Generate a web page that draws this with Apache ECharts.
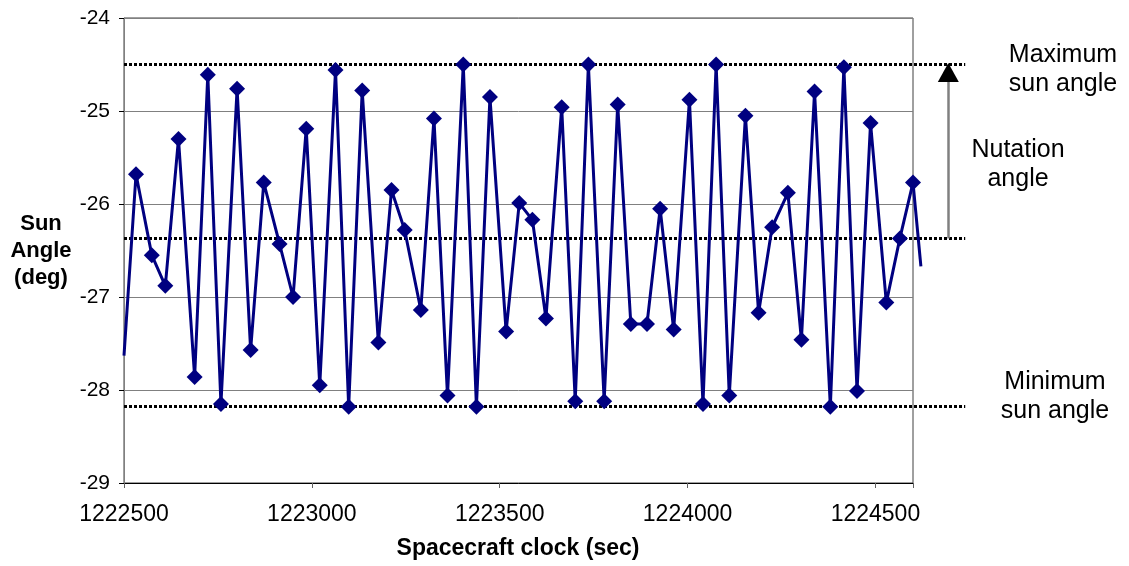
<!DOCTYPE html>
<html>
<head>
<meta charset="utf-8">
<script src="https://cdn.jsdelivr.net/npm/echarts@6/dist/echarts.min.js"></script>
<style>
  html, body { margin: 0; padding: 0; background: #fff; }
  #chart { width: 1129px; height: 566px; }
</style>
</head>
<body>
<div id="chart"></div>
<script>
// Spacecraft clock (sec) of each sample
var clockSec = [
  1222532, 1222574, 1222610, 1222645, 1222688, 1222723, 1222758, 1222801,
  1222837, 1222872, 1222914, 1222950, 1222985, 1223021, 1223063, 1223098,
  1223134, 1223177, 1223212, 1223247, 1223290, 1223325, 1223361, 1223403,
  1223438, 1223474, 1223517, 1223552, 1223587, 1223623, 1223665, 1223701,
  1223736, 1223778, 1223814, 1223849, 1223892, 1223927, 1223963, 1224005,
  1224041, 1224076, 1224111, 1224154, 1224189, 1224225, 1224267, 1224303,
  1224338, 1224380, 1224416, 1224451, 1224487, 1224529, 1224565, 1224600
];
// Sun angle (deg) of each sample
var sunAngle = [
  -25.68, -26.55, -26.88, -25.30, -27.86, -24.61, -28.15, -24.76,
  -27.57, -25.77, -26.43, -27.00, -25.19, -27.95, -24.56, -28.18,
  -24.78, -27.49, -25.85, -26.28, -27.14, -25.08, -28.06, -24.50,
  -28.18, -24.85, -27.37, -25.99, -26.17, -27.23, -24.96, -28.12,
  -24.50, -28.12, -24.93, -27.29, -27.29, -26.05, -27.35, -24.88,
  -28.15, -24.50, -28.06, -25.05, -27.17, -26.25, -25.88, -27.46,
  -24.79, -28.18, -24.53, -28.01, -25.13, -27.06, -26.37, -25.77
];
// unmarked line ends (trace continues past the plotted window)
var leadIn = [1222500, -27.63];
var tailOut = [1224621, -26.67];

// reference levels
var maxSunAngle = -24.50;
var midSunAngle = -26.37;
var minSunAngle = -28.18;
var refLineStart = 1222500;
var refLineEnd = 1224739;
var arrowClock = 1224694;
var arrowHeadAngle = -24.585;

var xMin = 1222500, xMax = 1224600, xStep = 500;
var yMin = -29, yMax = -24, yStep = 1;

var mainData = [{ value: leadIn, symbol: 'none' }];
for (var i = 0; i < clockSec.length; i++) mainData.push([clockSec[i], sunAngle[i]]);
var lastPoint = [clockSec[clockSec.length - 1], sunAngle[sunAngle.length - 1]];

var FONT = '"Liberation Sans", Arial, sans-serif';
var chart = echarts.init(document.getElementById('chart'), null, { renderer: 'canvas' });
chart.setOption({
  animation: false,
  backgroundColor: '#fff',
  grid: { left: 124, top: 18, right: 216, bottom: 83, show: true, borderColor: '#404040', borderWidth: 1, backgroundColor: 'transparent' },
  xAxis: {
    type: 'value', min: xMin, max: xMax, interval: xStep,
    axisLine: { lineStyle: { color: '#000', width: 1 } },
    axisTick: { show: true, inside: false, length: 5, lineStyle: { color: '#606060' } },
    axisLabel: {
      color: '#000', fontSize: 23, fontFamily: FONT, margin: 20,
      formatter: function (v) { return (v - xMin) % xStep === 0 ? String(v) : ''; }
    },
    splitLine: { show: false }
  },
  yAxis: {
    type: 'value', min: yMin, max: yMax, interval: yStep,
    axisLine: { show: true, lineStyle: { color: '#808080', width: 1 } },
    axisTick: { show: true, inside: false, length: 5, lineStyle: { color: '#000' } },
    axisLabel: { color: '#000', fontSize: 21, fontFamily: FONT, margin: 14 },
    splitLine: { show: true, lineStyle: { color: '#808080', width: 1 } }
  },
  series: [
    {
      type: 'lines', coordinateSystem: 'cartesian2d', clip: false, silent: true, z: 1,
      symbol: 'none',
      lineStyle: { color: '#000', width: 3, type: [3, 2], opacity: 1 },
      data: [
        { coords: [[refLineStart, maxSunAngle], [refLineEnd, maxSunAngle]] },
        { coords: [[refLineStart, midSunAngle], [refLineEnd, midSunAngle]] },
        { coords: [[refLineStart, minSunAngle], [refLineEnd, minSunAngle]] }
      ]
    },
    {
      type: 'lines', coordinateSystem: 'cartesian2d', clip: false, silent: true, z: 2,
      symbol: 'none',
      lineStyle: { color: '#808080', width: 2.5, opacity: 1 },
      data: [{ coords: [[arrowClock, midSunAngle], [arrowClock, arrowHeadAngle]] }]
    },
    {
      type: 'scatter', clip: false, silent: true, z: 3,
      symbol: 'triangle', symbolSize: [21, 19],
      itemStyle: { color: '#000', opacity: 1 },
      data: [[arrowClock, arrowHeadAngle]]
    },
    {
      type: 'lines', coordinateSystem: 'cartesian2d', clip: false, silent: true, z: 4,
      symbol: 'none',
      lineStyle: { color: '#000080', width: 3, opacity: 1 },
      data: [{ coords: [lastPoint, tailOut] }]
    },
    {
      type: 'line', data: mainData, z: 5,
      symbol: 'diamond', symbolSize: 16, showAllSymbol: true,
      lineStyle: { color: '#000080', width: 3 },
      itemStyle: { color: '#000080' }
    }
  ],
  graphic: [
    { type: 'text', x: 41, y: 251, style: { text: 'Sun\nAngle\n(deg)', font: 'bold 22px ' + FONT, fill: '#000', textAlign: 'center', textVerticalAlign: 'middle', lineHeight: 27 } },
    { type: 'text', x: 518, y: 549, style: { text: 'Spacecraft clock (sec)', font: 'bold 23px ' + FONT, fill: '#000', textAlign: 'center', textVerticalAlign: 'middle' } },
    { type: 'text', x: 1063, y: 70, style: { text: 'Maximum\nsun angle', font: '25px ' + FONT, fill: '#000', textAlign: 'center', textVerticalAlign: 'middle', lineHeight: 29 } },
    { type: 'text', x: 1018, y: 165, style: { text: 'Nutation\nangle', font: '25px ' + FONT, fill: '#000', textAlign: 'center', textVerticalAlign: 'middle', lineHeight: 29 } },
    { type: 'text', x: 1055, y: 397, style: { text: 'Minimum\nsun angle', font: '25px ' + FONT, fill: '#000', textAlign: 'center', textVerticalAlign: 'middle', lineHeight: 29 } }
  ]
});
</script>
</body>
</html>
